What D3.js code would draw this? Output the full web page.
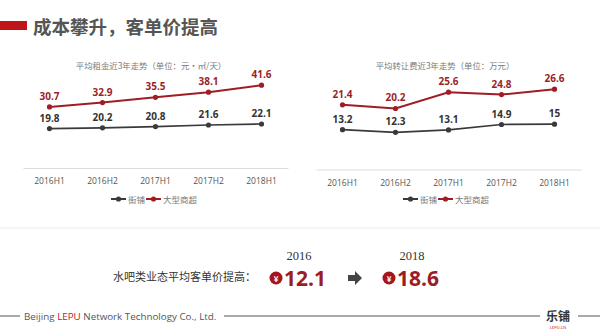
<!DOCTYPE html>
<html>
<head>
<meta charset="utf-8">
<script src="https://cdn.jsdelivr.net/npm/d3@7"></script>
<style>
  body { margin: 0; background: #fff; }
  svg { display: block; font-family: 'Noto Sans CJK SC', 'Open Sans', sans-serif; }
</style>
</head>
<body>
<svg id="chart"></svg>
<script>
const periods = ['2016H1', '2016H2', '2017H1', '2017H2', '2018H1'];
const seriesNames = ['街铺', '大型商超'];

const rentStreet = [19.8, 20.2, 20.8, 21.6, 22.1];
const rentMall = [30.7, 32.9, 35.5, 38.1, 41.6];

const feeStreet = [13.2, 12.3, 13.1, 14.9, 15];
const feeMall = [21.4, 20.2, 25.6, 24.8, 26.6];

const ticketYears = ['2016', '2018'];
const ticketValues = [12.1, 18.6];

const width = 600;
const height = 334;
const dark = '#3a3a3a';
const red = '#a01d26';

const svg = d3.select('#chart')
  .attr('width', width)
  .attr('height', height);

// header
svg.append('rect')
  .attr('x', 0).attr('y', 21)
  .attr('width', 27).attr('height', 9)
  .attr('fill', '#c0141b');

svg.append('text')
  .attr('x', 33).attr('y', 26)
  .attr('dominant-baseline', 'central')
  .attr('font-size', 18.5)
  .attr('font-weight', 'bold')
  .attr('fill', '#555')
  .text('成本攀升，客单价提高');

const drawPanel = (opts) => {
  const x = d3.scaleBand()
    .domain(periods)
    .range(opts.xRange)
    .padding(0);

  const y = d3.scaleLinear()
    .domain(opts.yDomain)
    .range(opts.yRange);

  const g = svg.append('g');

  g.append('text')
    .attr('x', opts.titleX).attr('y', 65)
    .attr('text-anchor', 'middle')
    .attr('dominant-baseline', 'central')
    .attr('font-size', 8.4)
    .attr('fill', '#7a7a7a')
    .text(opts.title);

  const axis = g.append('g')
    .attr('transform', `translate(0,${opts.yRange[0]})`)
    .call(d3.axisBottom(x).tickSize(0).tickPadding(10));
  axis.select('.domain').attr('stroke', '#dcdcdc');
  axis.selectAll('text')
    .attr('font-family', "'Open Sans', sans-serif")
    .attr('font-size', 8.5)
    .attr('fill', '#555');

  const cx = (d, i) => x(periods[i]) + x.bandwidth() / 2;

  const series = [
    { values: opts.street, color: dark, labelColor: '#333', w: 1.7 },
    { values: opts.mall, color: red, labelColor: '#9b1f27', w: 2 }
  ];

  series.forEach(s => {
    const line = d3.line()
      .x(cx)
      .y(d => y(d));

    g.append('path')
      .datum(s.values)
      .attr('fill', 'none')
      .attr('stroke', s.color)
      .attr('stroke-width', s.w)
      .attr('d', line);

    g.selectAll(null)
      .data(s.values)
      .enter()
      .append('circle')
      .attr('cx', cx)
      .attr('cy', d => y(d))
      .attr('r', 2.6)
      .attr('fill', s.color);

    g.selectAll(null)
      .data(s.values)
      .enter()
      .append('text')
      .attr('x', cx)
      .attr('y', d => y(d) - 11)
      .attr('text-anchor', 'middle')
      .attr('dominant-baseline', 'central')
      .attr('font-family', "'Open Sans', sans-serif")
      .attr('font-size', 10)
      .attr('font-weight', 'bold')
      .attr('fill', s.labelColor)
      .text(d => d);
  });

  // legend
  const legend = g.append('g')
    .attr('transform', `translate(${opts.legendX}, 199)`)
    .selectAll('g')
    .data(seriesNames)
    .enter()
    .append('g')
    .attr('transform', (d, i) => `translate(${i * 35}, 0)`);

  legend.append('line')
    .attr('x1', 0).attr('x2', 15)
    .attr('stroke', (d, i) => i === 0 ? dark : red)
    .attr('stroke-width', 2);

  legend.append('circle')
    .attr('cx', 7.5)
    .attr('r', 2.6)
    .attr('fill', (d, i) => i === 0 ? dark : red);

  legend.append('text')
    .attr('x', 17)
    .attr('dominant-baseline', 'central')
    .attr('font-size', 8.5)
    .attr('fill', '#777')
    .text(d => d);
};

drawPanel({
  title: '平均租金近3年走势（单位：元·㎡/天）',
  titleX: 151,
  xRange: [23, 288],
  yDomain: [0, 50],
  yRange: [168, 68.5],
  street: rentStreet,
  mall: rentMall,
  legendX: 111
});

drawPanel({
  title: '平均转让费近3年走势（单位：万元）',
  titleX: 445,
  xRange: [316, 581],
  yDomain: [0, 30],
  yRange: [169.5, 78.9],
  street: feeStreet,
  mall: feeMall,
  legendX: 403
});

// separator
svg.append('line')
  .attr('x1', 0).attr('x2', width)
  .attr('y1', 228).attr('y2', 228)
  .attr('stroke', '#ececec');

// ticket price block
svg.append('text')
  .attr('x', 113).attr('y', 276)
  .attr('dominant-baseline', 'central')
  .attr('font-size', 11)
  .attr('fill', '#333')
  .text('水吧类业态平均客单价提高：');

const ticketX = d3.scalePoint()
  .domain(ticketYears)
  .range([276, 389]);

const ticket = svg.append('g')
  .selectAll('g')
  .data(ticketYears)
  .enter()
  .append('g')
  .attr('transform', d => `translate(${ticketX(d)}, 0)`);

ticket.append('text')
  .attr('x', 23).attr('y', 256)
  .attr('text-anchor', 'middle')
  .attr('dominant-baseline', 'central')
  .attr('font-family', "'Liberation Serif', serif")
  .attr('font-size', 12.5)
  .attr('fill', '#333')
  .text(d => d);

ticket.append('circle')
  .attr('cx', 0).attr('cy', 278)
  .attr('r', 6.5)
  .attr('fill', '#a3161d');

ticket.append('text')
  .attr('x', 0).attr('y', 278.5)
  .attr('text-anchor', 'middle')
  .attr('dominant-baseline', 'central')
  .attr('font-size', 8)
  .attr('font-weight', 'bold')
  .attr('fill', '#fff')
  .text('¥');

ticket.append('text')
  .attr('x', 8).attr('y', 278)
  .attr('dominant-baseline', 'central')
  .attr('font-family', "'Open Sans', sans-serif")
  .attr('font-size', 21)
  .attr('font-weight', 'bold')
  .attr('fill', '#9b1c22')
  .text((d, i) => ticketValues[i]);

// arrow
svg.append('path')
  .attr('d', 'M348,275 h7 v-4 l7,7 l-7,7 v-4 h-7 z')
  .attr('fill', '#444');

// footer
svg.append('line')
  .attr('x1', 0).attr('x2', 20)
  .attr('y1', 316).attr('y2', 316)
  .attr('stroke', '#555');

const footer = svg.append('text')
  .attr('x', 24).attr('y', 316)
  .attr('dominant-baseline', 'central')
  .attr('font-family', "'Open Sans', sans-serif")
  .attr('font-size', 9.8)
  .attr('fill', '#555');
footer.append('tspan').text('Beijing ');
footer.append('tspan').attr('fill', '#c0141b').text('LEPU');
footer.append('tspan').text(' Network Technology Co., Ltd.');

svg.append('line')
  .attr('x1', 224).attr('x2', 540)
  .attr('y1', 316).attr('y2', 316)
  .attr('stroke', '#555');

svg.append('text')
  .attr('x', 558).attr('y', 315)
  .attr('text-anchor', 'middle')
  .attr('dominant-baseline', 'central')
  .attr('font-size', 12)
  .attr('font-weight', 'bold')
  .attr('fill', '#333')
  .text('乐铺');

svg.append('text')
  .attr('x', 558).attr('y', 327)
  .attr('text-anchor', 'middle')
  .attr('dominant-baseline', 'central')
  .attr('font-size', 4)
  .attr('fill', '#c0141b')
  .text('LEPU.CN');

svg.append('line')
  .attr('x1', 578).attr('x2', 600)
  .attr('y1', 316).attr('y2', 316)
  .attr('stroke', '#555');
</script>
</body>
</html>
